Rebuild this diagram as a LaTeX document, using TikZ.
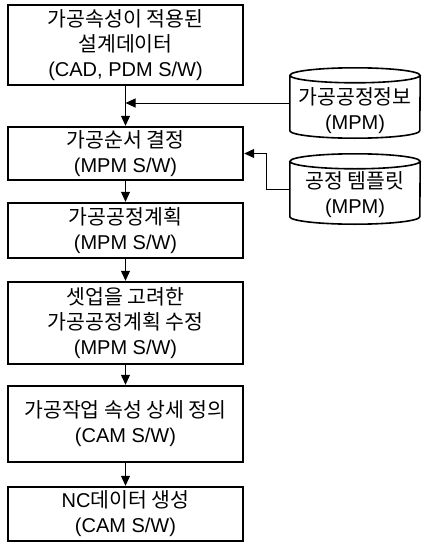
\documentclass[tikz,border=0pt]{standalone}
\usepackage{fontspec}
\setmainfont{Liberation Sans}
\newfontfamily\krfont{Noto Sans CJK KR}
\usetikzlibrary{arrows.meta}
\newcommand{\en}[1]{{\rmfamily\fontsize{20}{25}\selectfont #1}}

\begin{document}
\begin{tikzpicture}[x=1pt,y=-1pt,
  procbox/.style={draw, line width=2.4pt, minimum width=235pt, inner sep=0pt,
    align=center, font=\krfont\fontsize{20.5}{25}\selectfont},
  storebody/.style={minimum width=130pt, minimum height=55pt, inner sep=0pt},
  storeline/.style={line width=1.6pt},
  storetext/.style={align=center, inner sep=0pt,
    font=\krfont\fontsize{20.5}{25}\selectfont},
  flow/.style={line width=1pt, -{Triangle[length=10pt,width=9pt]}}]
  \useasboundingbox (0,0) rectangle (422,543);

  \node[procbox, minimum height=80pt] (Design) at (125.5,45)
    {가공속성이 적용된\\설계데이터\\\en{(CAD, PDM S/W)}};
  \node[procbox, minimum height=53pt] (Order) at (125.5,153.5)
    {가공순서 결정\\\en{(MPM S/W)}};
  \node[procbox, minimum height=55pt] (Plan) at (125.5,230.5)
    {가공공정계획\\\en{(MPM S/W)}};
  \node[procbox, minimum height=82pt] (Setup) at (125.5,323)
    {셋업을 고려한\\가공공정계획 수정\\\en{(MPM S/W)}};
  \node[procbox, minimum height=76pt] (Detail) at (125.5,424)
    {가공작업 속성 상세 정의\\\en{(CAM S/W)}};
  \node[procbox, minimum height=54pt] (NCGen) at (125.5,514)
    {\en{NC}데이터 생성\\\en{(CAM S/W)}};

  % databases
  \node[storebody] (ProcInfo) at (355,103) {};
  \draw[storeline] (ProcInfo.north) ellipse [x radius=65pt, y radius=7.5pt]
    (ProcInfo.north west) -- (ProcInfo.south west)
    arc[start angle=180, end angle=360, x radius=65pt, y radius=7.5pt]
    -- (ProcInfo.north east);
  \node[storetext] (ProcInfoText) at (355,110.5) {가공공정정보\\\en{(MPM)}};

  \node[storebody] (Template) at (355,189) {};
  \draw[storeline] (Template.north) ellipse [x radius=65pt, y radius=7.5pt]
    (Template.north west) -- (Template.south west)
    arc[start angle=180, end angle=360, x radius=65pt, y radius=7.5pt]
    -- (Template.north east);
  \node[storetext] (TemplateText) at (355,194.5) {공정 템플릿\\\en{(MPM)}};

  \draw[flow] (Design.south) -- (Order.north);
  \draw[flow] (Order.south) -- (Plan.north);
  \draw[flow] (Plan.south) -- (Setup.north);
  \draw[flow] (Setup.south) -- (Detail.north);
  \draw[flow] (Detail.south) -- (NCGen.north);

  \draw[flow] (ProcInfo.west) -- (ProcInfo.west -| Design.south);
  \draw[flow] (Template.west) -- ++(-23,0) |- (Order.east);
\end{tikzpicture}
\end{document}
